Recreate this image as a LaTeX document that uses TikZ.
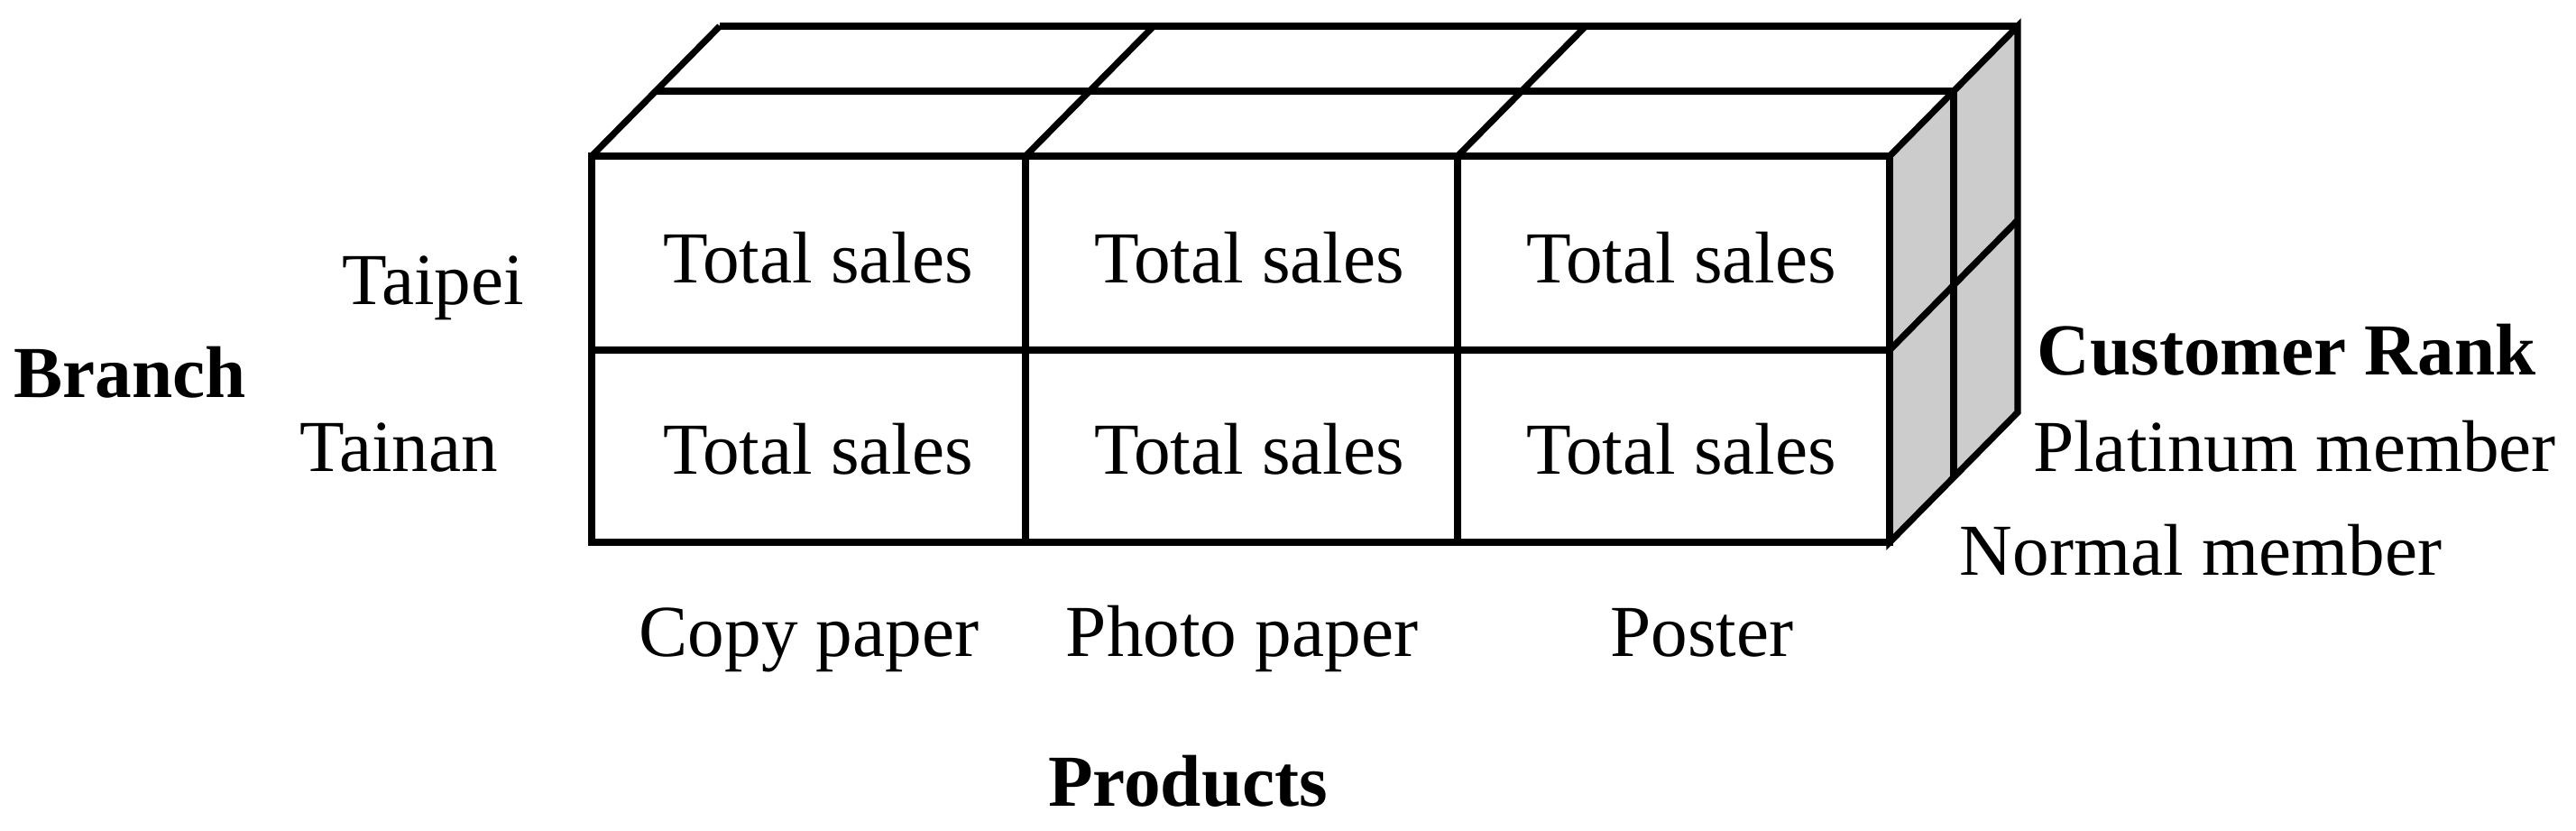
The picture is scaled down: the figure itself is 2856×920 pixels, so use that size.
\documentclass[tikz,border=0pt]{standalone}
\usepackage{fontspec}
\setmainfont{Liberation Serif}
\usepackage{xcolor}
\definecolor{sidegray}{RGB}{204,204,204}

\begin{document}
\begin{tikzpicture}[x=0.25pt,y=0.25pt,yscale=-1,xscale=1,line width=1.8pt]
\useasboundingbox (0,0) rectangle (2856,920);
\tikzset{label/.style={anchor=base,inner sep=0pt,font=\fontsize{20.3}{24}\selectfont},
  axislabel/.style={label,font=\fontsize{20.3}{24}\selectfont\bfseries}}

%Shape: Side faces (shaded)
\draw [fill=sidegray] (2095,173) -- (2237,29) -- (2237,457) -- (2095,601) -- cycle ;
%Straight Lines: top face, depth layers
\draw    (727,101) -- (2166,101) ;
\draw    (798,29) -- (2237,29) ;
%Straight Lines: top face, slanted edges
\draw    (656,173) -- (798,29) ;
\draw    (1137,173) -- (1279,29) ;
\draw    (1616,173) -- (1758,29) ;
%Shape: Front face
\draw    (656,173) rectangle (2095,601) ;
\draw    (656,388) -- (2095,388) ;
\draw    (1137,173) -- (1137,601) ;
\draw    (1616,173) -- (1616,601) ;
%Straight Lines: side face
\draw    (2166,101) -- (2166,529) ;
\draw    (2095,388) -- (2237,244) ;

% Text Node
\draw (907,313) node (ts11) [label] {Total sales};
% Text Node
\draw (1385,313) node (ts12) [label] {Total sales};
% Text Node
\draw (1864,313) node (ts13) [label] {Total sales};
% Text Node
\draw (907,525) node (ts21) [label] {Total sales};
% Text Node
\draw (1385,525) node (ts22) [label] {Total sales};
% Text Node
\draw (1864,525) node (ts23) [label] {Total sales};
% Text Node
\draw (480,337) node (taipei) [label] {Taipei};
% Text Node
\draw (442,522) node (tainan) [label] {Tainan};
% Text Node
\draw (144,440) node (branch) [axislabel] {Branch};
% Text Node
\draw (897,727) node (copy) [label] {Copy paper};
% Text Node
\draw (1377,727) node (photo) [label] {Photo paper};
% Text Node
\draw (1887,727) node (poster) [label] {Poster};
% Text Node
\draw (1317,893) node (products) [axislabel] {Products};
% Text Node
\draw (2535,415) node (rank) [axislabel] {Customer Rank};
% Text Node
\draw (2544,522) node (platinum) [label] {Platinum member};
% Text Node
\draw (2440,637) node (normal) [label] {Normal member};

\end{tikzpicture}
\end{document}
